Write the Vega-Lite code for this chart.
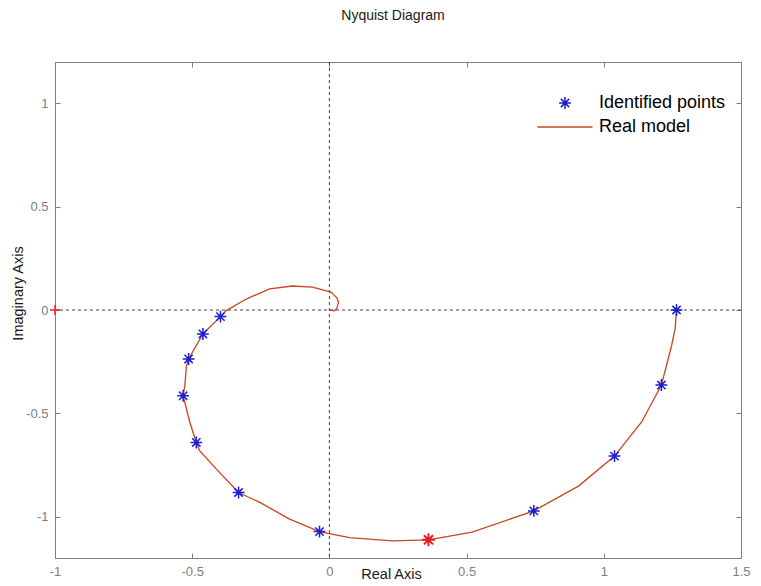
{
  "$schema": "https://vega.github.io/schema/vega-lite/v6.json",
  "width": 686,
  "height": 496,
  "autosize": {"type": "none"},
  "padding": {"left": 55, "top": 62, "right": 20, "bottom": 28},
  "background": "white",
  "title": {"text": "Nyquist Diagram", "fontSize": 14, "font": "Liberation Sans", "fontWeight": "normal", "color": "#1a1a1a", "offset": 39, "dx": -5},
  "config": {
    "view": {"stroke": "#808080"},
    "axis": {
      "grid": false,
      "domainColor": "#808080",
      "tickColor": "#808080",
      "tickSize": -5,
      "labelPadding": 12,
      "labelFlush": false,
      "labelColor": "#808080",
      "labelFont": "Liberation Sans",
      "labelFontSize": 13,
      "titleFont": "Liberation Sans",
      "titleFontSize": 14.5,
      "titleFontWeight": "normal",
      "titleColor": "#1a1a1a"
    },
    "legend": {
      "labelFont": "Liberation Sans",
      "labelFontSize": 18,
      "labelColor": "#000000",
      "symbolStrokeWidth": 1.5,
      "symbolSize": 140,
      "labelOffset": 25,
      "rowPadding": 6
    }
  },
  "datasets": {
    "curve": [
      {"order": 1, "re": 1.265, "im": 0, "series": "Real model"},
      {"order": 2, "re": 1.26, "im": -0.09, "series": "Real model"},
      {"order": 3, "re": 1.247, "im": -0.173, "series": "Real model"},
      {"order": 4, "re": 1.21, "im": -0.363, "series": "Real model"},
      {"order": 5, "re": 1.138, "im": -0.542, "series": "Real model"},
      {"order": 6, "re": 1.039, "im": -0.707, "series": "Real model"},
      {"order": 7, "re": 0.909, "im": -0.851, "series": "Real model"},
      {"order": 8, "re": 0.745, "im": -0.972, "series": "Real model"},
      {"order": 9, "re": 0.52, "im": -1.075, "series": "Real model"},
      {"order": 10, "re": 0.361, "im": -1.112, "series": "Real model"},
      {"order": 11, "re": 0.23, "im": -1.117, "series": "Real model"},
      {"order": 12, "re": 0.145, "im": -1.109, "series": "Real model"},
      {"order": 13, "re": 0.073, "im": -1.101, "series": "Real model"},
      {"order": 14, "re": -0.036, "im": -1.072, "series": "Real model"},
      {"order": 15, "re": -0.145, "im": -1.012, "series": "Real model"},
      {"order": 16, "re": -0.255, "im": -0.93, "series": "Real model"},
      {"order": 17, "re": -0.331, "im": -0.883, "series": "Real model"},
      {"order": 18, "re": -0.412, "im": -0.77, "series": "Real model"},
      {"order": 19, "re": -0.473, "im": -0.681, "series": "Real model"},
      {"order": 20, "re": -0.485, "im": -0.641, "series": "Real model"},
      {"order": 21, "re": -0.509, "im": -0.542, "series": "Real model"},
      {"order": 22, "re": -0.533, "im": -0.415, "series": "Real model"},
      {"order": 23, "re": -0.527, "im": -0.367, "series": "Real model"},
      {"order": 24, "re": -0.521, "im": -0.27, "series": "Real model"},
      {"order": 25, "re": -0.513, "im": -0.237, "series": "Real model"},
      {"order": 26, "re": -0.461, "im": -0.116, "series": "Real model"},
      {"order": 27, "re": -0.397, "im": -0.032, "series": "Real model"},
      {"order": 28, "re": -0.376, "im": -0.003, "series": "Real model"},
      {"order": 29, "re": -0.303, "im": 0.053, "series": "Real model"},
      {"order": 30, "re": -0.218, "im": 0.102, "series": "Real model"},
      {"order": 31, "re": -0.135, "im": 0.116, "series": "Real model"},
      {"order": 32, "re": -0.062, "im": 0.111, "series": "Real model"},
      {"order": 33, "re": 0.006, "im": 0.087, "series": "Real model"},
      {"order": 34, "re": 0.028, "im": 0.058, "series": "Real model"},
      {"order": 35, "re": 0.033, "im": 0.036, "series": "Real model"},
      {"order": 36, "re": 0.027, "im": 0.008, "series": "Real model"},
      {"order": 37, "re": 0.018, "im": -0.004, "series": "Real model"},
      {"order": 38, "re": 0.0, "im": 0.0, "series": "Real model"}
    ],
    "points": [
      {"re": 1.265, "im": 0, "series": "Identified points"},
      {"re": 1.21, "im": -0.363, "series": "Identified points"},
      {"re": 1.039, "im": -0.707, "series": "Identified points"},
      {"re": 0.745, "im": -0.972, "series": "Identified points"},
      {"re": -0.036, "im": -1.072, "series": "Identified points"},
      {"re": -0.331, "im": -0.883, "series": "Identified points"},
      {"re": -0.485, "im": -0.641, "series": "Identified points"},
      {"re": -0.533, "im": -0.415, "series": "Identified points"},
      {"re": -0.513, "im": -0.237, "series": "Identified points"},
      {"re": -0.461, "im": -0.116, "series": "Identified points"},
      {"re": -0.397, "im": -0.032, "series": "Identified points"}
    ],
    "highlight": [
      {"re": 0.361, "im": -1.112}
    ],
    "critical": [
      {"re": -1, "im": 0}
    ],
    "axes": [
      {"re": 0, "im": 0}
    ]
  },
  "layer": [
    {
      "data": {"name": "axes"},
      "mark": {"type": "rule", "stroke": "#404040", "strokeDash": [3, 3], "strokeWidth": 1},
      "encoding": {
        "y": {"field": "im", "type": "quantitative",
          "scale": {"domain": [-1.2, 1.2], "nice": false, "zero": false},
          "axis": {"orient": "left", "values": [-1, -0.5, 0, 0.5, 1], "labelExpr": "'' + datum.value", "title": "Imaginary Axis", "titleX": -37, "titleY": 231, "titleBaseline": "middle", "titleAngle": -90, "titleAlign": "center"}
        }
      }
    },
    {
      "data": {"name": "axes"},
      "mark": {"type": "rule", "stroke": "#404040", "strokeDash": [3, 3], "strokeWidth": 1},
      "encoding": {
        "x": {"field": "re", "type": "quantitative",
          "scale": {"domain": [-1, 1.5], "nice": false, "zero": false},
          "axis": {"orient": "bottom", "values": [-1, -0.5, 0, 0.5, 1, 1.5], "labelExpr": "'' + datum.value", "title": "Real Axis", "titleX": 336, "titleY": 16, "titleBaseline": "middle", "titleAlign": "center"}
        }
      }
    },
    {
      "data": {"name": "curve"},
      "mark": {"type": "line", "strokeWidth": 1.3},
      "encoding": {
        "x": {"field": "re", "type": "quantitative", "axis": null},
        "y": {"field": "im", "type": "quantitative", "axis": null},
        "order": {"field": "order", "type": "quantitative"},
        "color": {"field": "series", "type": "nominal",
          "scale": {"domain": ["Identified points", "Real model"], "range": ["#1c1cd0", "#c8461e"]},
          "legend": {"title": null, "orient": "none", "legendX": 501, "legendY": 32}
        }
      }
    },
    {
      "data": {"name": "points"},
      "mark": {"type": "point", "filled": false, "strokeWidth": 1.5, "opacity": 1, "size": 140},
      "encoding": {
        "x": {"field": "re", "type": "quantitative", "axis": null},
        "y": {"field": "im", "type": "quantitative", "axis": null},
        "color": {"field": "series", "type": "nominal",
          "scale": {"domain": ["Identified points", "Real model"], "range": ["#1c1cd0", "#c8461e"]},
          "legend": {"title": null, "orient": "none", "legendX": 501, "legendY": 32}
        },
        "shape": {"field": "series", "type": "nominal",
          "scale": {"domain": ["Identified points", "Real model"], "range": ["M0,-1L0,1M-1,0L1,0M-0.7,-0.7L0.7,0.7M-0.7,0.7L0.7,-0.7", "M-4.65,0L4.65,0"]},
          "legend": {"title": null, "orient": "none", "legendX": 501, "legendY": 32}
        }
      }
    },
    {
      "data": {"name": "highlight"},
      "mark": {"type": "point", "filled": false, "strokeWidth": 2, "opacity": 1, "color": "#e02020", "size": 170, "shape": "M0,-1L0,1M-1,0L1,0M-0.7,-0.7L0.7,0.7M-0.7,0.7L0.7,-0.7"},
      "encoding": {
        "x": {"field": "re", "type": "quantitative", "axis": null},
        "y": {"field": "im", "type": "quantitative", "axis": null}
      }
    },
    {
      "data": {"name": "critical"},
      "mark": {"type": "point", "filled": false, "strokeWidth": 1.5, "opacity": 1, "color": "#ff2020", "size": 100, "shape": "M0,-1L0,1M-1,0L1,0"},
      "encoding": {
        "x": {"field": "re", "type": "quantitative", "axis": {"orient": "top", "values": [-1, -0.5, 0, 0.5, 1, 1.5], "labels": false, "title": null}},
        "y": {"field": "im", "type": "quantitative", "axis": {"orient": "right", "values": [-1, -0.5, 0, 0.5, 1], "labels": false, "title": null}}
      }
    }
  ],
  "resolve": {"axis": {"x": "independent", "y": "independent"}}
}
